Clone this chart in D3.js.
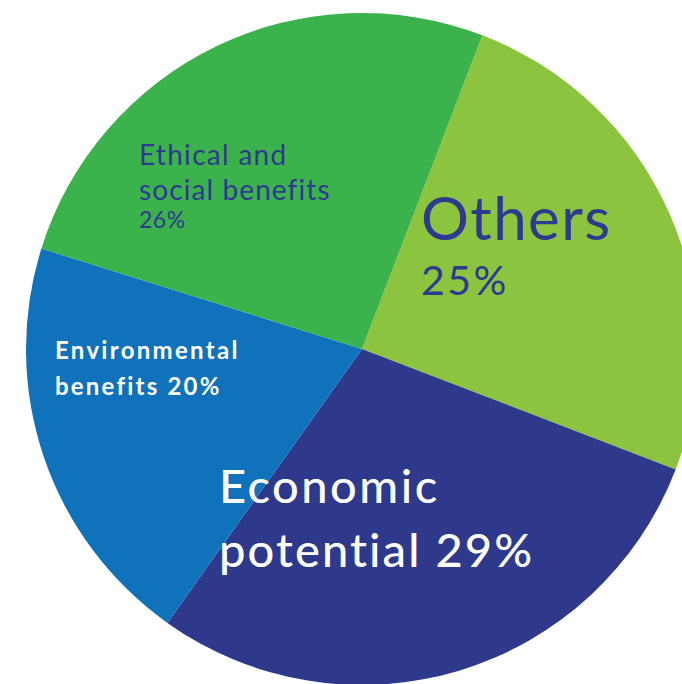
<!DOCTYPE html>
<html>
<head>
<meta charset="utf-8">
<script src="https://cdn.jsdelivr.net/npm/d3@7/dist/d3.min.js"></script>
<style>
  html, body { margin: 0; padding: 0; background: #ffffff; }
  svg { display: block; }
  text { font-family: Lato, "Noto Sans", sans-serif; }
</style>
</head>
<body>
<svg id="chart" width="682" height="684"></svg>
<script>
// Slice data, clockwise from the top of the pie
const categories = ["Others", "Economic potential", "Environmental benefits", "Ethical and social benefits"];
const shares = [25, 29, 20, 26];
const sliceColors = ["#8dc43f", "#2e398c", "#1072ba", "#3bb24b"];

// Label lines per slice; "{v}" is replaced by the slice share
const labelLines = [
  ["Others", "{v}%"],
  ["Economic", "potential {v}%"],
  ["Environmental", "benefits {v}%"],
  ["Ethical and", "social benefits", "{v}%"]
];

// Label placement and styling (left x, baselines, font sizes, letter spacing, weight, fill)
const labelStyle = [
  { x: 421, y: [240, 295], size: [60, 41], spacing: [1.4, 2.5], weight: 400, fill: "#2e3a8f" },
  { x: 219, y: [503, 567], size: [47, 47], spacing: [2.5, 2.1], weight: 500, fill: "#ffffff" },
  { x: 55,  y: [359, 395], size: [24, 24], spacing: [2.3, 2.2], weight: 700, fill: "#ffffff" },
  { x: 139, y: [165, 200, 228], size: [28, 28, 23], spacing: [1.3, 1.1, 0.5], weight: 400, fill: "#2e3a8f" }
];

const svg = d3.select("#chart");
const cx = 362, cy = 349, radius = 336;
const start = 21 * Math.PI / 180;

const data = categories.map((c, i) => ({ category: c, value: shares[i], index: i }));

const pie = d3.pie()
  .sort(null)
  .value(d => d.value)
  .startAngle(start)
  .endAngle(start + 2 * Math.PI);

const arc = d3.arc().innerRadius(0).outerRadius(radius);
const color = d3.scaleOrdinal().domain(categories).range(sliceColors);

const g = svg.append("g").attr("transform", `translate(${cx},${cy})`);

g.selectAll("path.slice")
  .data(pie(data))
  .join("path")
  .attr("class", "slice")
  .attr("d", arc)
  .attr("fill", d => color(d.data.category));

// Labels
const labels = svg.append("g");
data.forEach((d, i) => {
  const st = labelStyle[i];
  const t = labels.append("text")
    .attr("fill", st.fill)
    .attr("font-weight", st.weight);
  labelLines[i].forEach((line, j) => {
    t.append("tspan")
      .attr("x", st.x)
      .attr("y", st.y[j])
      .attr("font-size", st.size[j])
      .attr("letter-spacing", st.spacing[j])
      .text(line.replace("{v}", d.value));
  });
});
</script>
</body>
</html>
